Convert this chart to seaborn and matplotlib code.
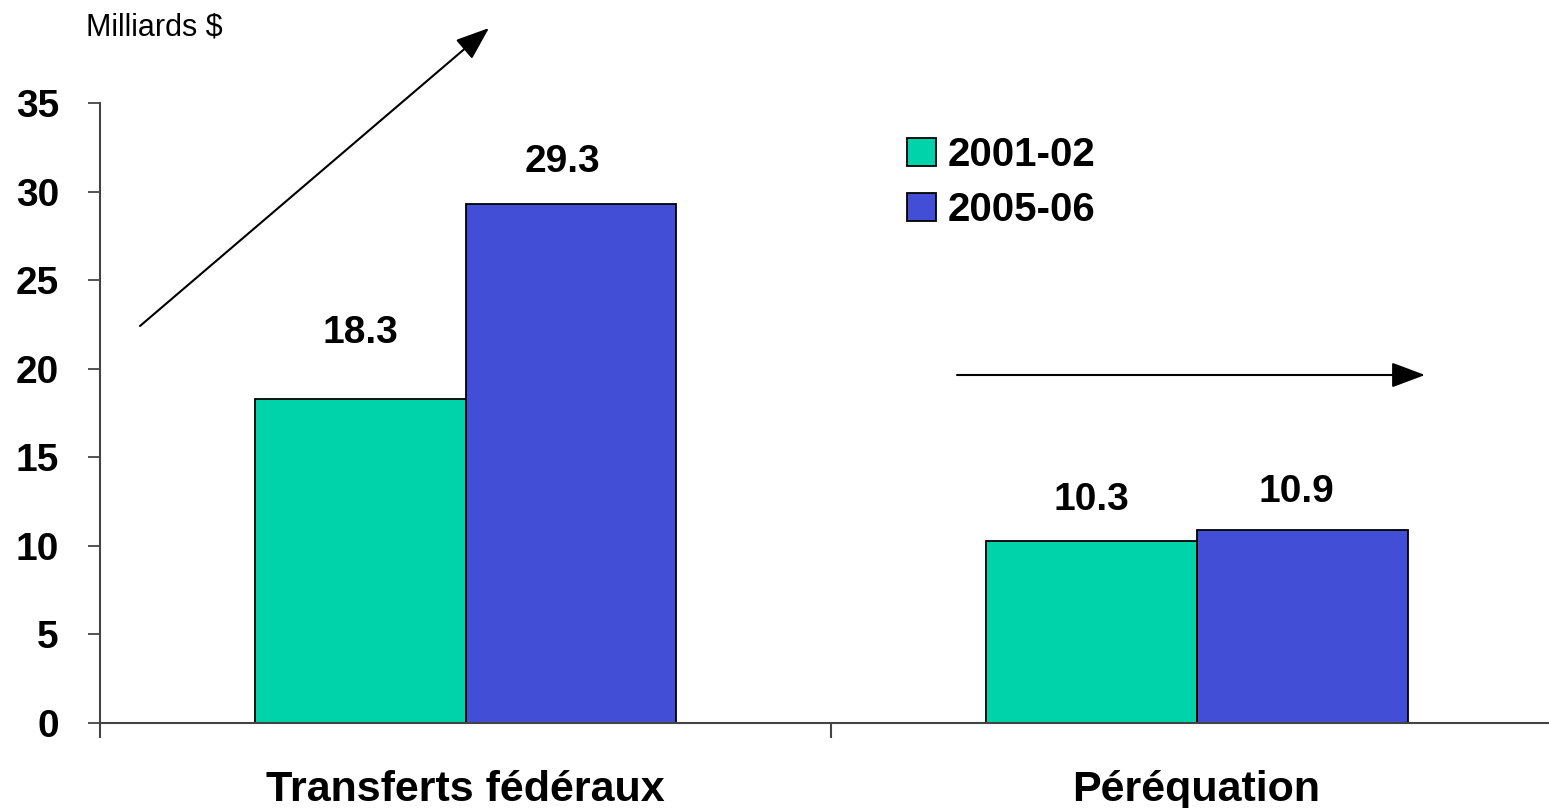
import pandas as pd
import seaborn as sns
import matplotlib.pyplot as plt
from matplotlib.patches import FancyArrowPatch

# Données (milliards $)
categories = ["Transferts fédéraux", "Péréquation"]
annees = ["2001-02", "2005-06"]
valeurs_2001 = [18.3, 10.3]
valeurs_2005 = [29.3, 10.9]
etiquettes_2001 = ["18.3", "10.3"]
etiquettes_2005 = ["29.3", "10.9"]
yticks = [0, 5, 10, 15, 20, 25, 30, 35]

couleurs = ["#00D2AA", "#434ED6"]


def build_chart():
    df = pd.DataFrame({
        "categorie": categories * 2,
        "annee": [annees[0]] * 2 + [annees[1]] * 2,
        "valeur": valeurs_2001 + valeurs_2005,
    })

    sns.set_theme(style="white")
    plt.rcParams["font.family"] = ["Liberation Sans", "DejaVu Sans"]
    plt.rcParams["text.color"] = "black"
    plt.rcParams["xtick.labelcolor"] = "black"
    plt.rcParams["ytick.labelcolor"] = "black"

    fig = plt.figure(figsize=(15.49, 8.08), dpi=100)
    ax = fig.add_axes([100 / 1549, 1 - 723 / 808, 1 - 100 / 1549, (723 - 103) / 808])

    sns.barplot(data=df, x="categorie", y="valeur", hue="annee",
                palette=couleurs, width=0.577, edgecolor="black",
                linewidth=1.3, saturation=1, ax=ax)

    ax.set_xlim(-0.5, 1.482)
    ax.set_ylim(0, 35)
    ax.set_yticks(yticks)
    ax.set_yticklabels([str(v) for v in yticks], fontsize=28, fontweight="bold",
                       color="black")
    ax.set_xticks([0, 1])
    ax.set_xticklabels(categories, fontsize=31, fontweight="bold", color="black")
    ax.set_xticks([-0.5, 0.5], minor=True)
    ax.tick_params(axis="x", which="major", length=0, pad=34)
    ax.tick_params(axis="x", which="minor", direction="out", length=11,
                   width=1.5, color="#444444", bottom=True)
    ax.tick_params(axis="y", direction="out", length=8.6, width=1.3,
                   color="#444444", left=True, pad=21)
    ax.set_xlabel("")
    ax.set_ylabel("")

    sns.despine(ax=ax, top=True, right=True)
    for side in ["left", "bottom"]:
        ax.spines[side].set_color("#444444")
        ax.spines[side].set_linewidth(1.5)

    # Étiquettes des valeurs
    decalages = [[(0, 47.5), (0, 29.5)], [(-6, 30), (-4, 27.5)]]
    textes = [etiquettes_2001, etiquettes_2005]
    for i, cont in enumerate(ax.containers):
        for j, bar in enumerate(cont):
            x = bar.get_x() + bar.get_width() / 2
            ax.annotate(textes[i][j], (x, bar.get_height()),
                        xytext=decalages[i][j], textcoords="offset points",
                        ha="center", va="center", fontsize=28,
                        fontweight="bold", color="black")

    # Légende
    leg = ax.legend(loc="upper left", bbox_to_anchor=(907 / 1549, 1 - 136 / 808),
                    bbox_transform=fig.transFigure, frameon=False,
                    prop={"size": 29, "weight": "bold"},
                    handlelength=0.72, handleheight=0.7, handletextpad=0.3,
                    labelspacing=0.42, borderpad=0, borderaxespad=0)
    for h in leg.legend_handles:
        h.set_edgecolor("black")
        h.set_linewidth(1.3)
    for t in leg.get_texts():
        t.set_color("black")

    # Unité
    fig.text(86 / 1549, 1 - 28 / 808, "Milliards $", fontsize=22,
             ha="left", va="center", color="black",
             family=["Liberation Sans Narrow", "Liberation Sans"])

    # Flèches
    fleche = dict(arrowstyle="-|>,head_length=0.8,head_width=0.3",
                  mutation_scale=26, lw=1.5, color="black",
                  shrinkA=0, shrinkB=0)
    fig.add_artist(FancyArrowPatch(
        (140 / 1549, 1 - 326 / 808), (489 / 1549, 1 - 28 / 808),
        transform=fig.transFigure, **fleche))
    fig.add_artist(FancyArrowPatch(
        (957 / 1549, 1 - 375 / 808), (1425 / 1549, 1 - 375 / 808),
        transform=fig.transFigure, **fleche))

    fig.savefig("out.png", dpi=100)
    plt.close(fig)


if __name__ == "__main__":
    build_chart()
